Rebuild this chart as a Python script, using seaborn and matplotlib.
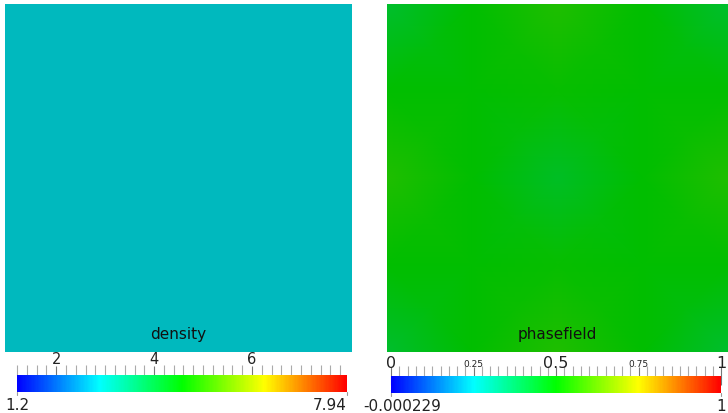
import numpy as np
import seaborn as sns
import matplotlib
matplotlib.use("Agg")
import matplotlib.pyplot as plt
from matplotlib.colors import LinearSegmentedColormap, Normalize
from matplotlib.cm import ScalarMappable
from matplotlib.ticker import MultipleLocator
from matplotlib.transforms import blended_transform_factory

# ==============================
# Data
# ==============================
# density field is flat (one teal colour everywhere)
density_grid = [
    [2.85, 2.85, 2.85],
    [2.85, 2.85, 2.85],
    [2.85, 2.85, 2.85],
]
density_range = (1.2, 7.94)
density_major = [2, 4, 6]
density_labels = ["2", "4", "6"]
density_minor_step = 0.2
density_end_labels = ["1.2", "7.94"]

# phasefield: greens, slightly yellow at edge midpoints, slightly blue at corners/centre
phase_grid = [
    [0.44, 0.50, 0.54, 0.50, 0.44],
    [0.50, 0.50, 0.51, 0.50, 0.50],
    [0.54, 0.50, 0.45, 0.50, 0.54],
    [0.50, 0.50, 0.51, 0.50, 0.50],
    [0.44, 0.50, 0.54, 0.50, 0.44],
]
phase_range = (-0.000229, 1.0)
phase_major = [0, 0.25, 0.5, 0.75, 1]
phase_labels = ["0", "0.25", "0.5", "0.75", "1"]
phase_minor_step = 0.025
phase_end_labels = ["-0.000229", "1"]

# ==============================
# Style
# ==============================
sns.set_style("white")
plt.rcParams["font.family"] = ["DejaVu Sans"]

# blue -> cyan -> green -> yellow -> red (HSV rainbow)
stops = [(0, 0, 1), (0, 1, 1), (0, 1, 0), (1, 1, 0), (1, 0, 0)]
bar_cmap = LinearSegmentedColormap.from_list("rainbow_bar", stops)
# the rendered surface is lit, so it looks darker than the legend
shade = 0.745
field_cmap = LinearSegmentedColormap.from_list(
    "rainbow_lit", [tuple(c * shade for c in s) for s in stops])

W, H = 728, 413
fig = plt.figure(figsize=(W / 100, H / 100), dpi=100)
fig.patch.set_facecolor("white")


def px_axes(x0, y0, x1, y1):
    return fig.add_axes([x0 / W, 1 - y1 / H, (x1 - x0) / W, (y1 - y0) / H])


def field(ax, grid, vrange, name):
    data = np.array(grid)
    sns.heatmap(data, ax=ax, cmap=field_cmap, vmin=vrange[0], vmax=vrange[1],
                cbar=False, xticklabels=False, yticklabels=False,
                shading="gouraud", linewidths=0)
    ax.set_xlim(0, data.shape[1] - 1)
    ax.set_ylim(data.shape[0] - 1, 0)
    ax.set_axis_off()
    ax.text(0.5, 0.038, name, transform=ax.transAxes, ha="center",
            va="baseline", fontsize=11, color="#111111")


def legend_bar(cax, vrange, major, labels, minor_step, end_labels,
               big, small, top_y, end_pos):
    sm = ScalarMappable(norm=Normalize(*vrange), cmap=bar_cmap)
    cb = fig.colorbar(sm, cax=cax, orientation="horizontal")
    cb.outline.set_visible(False)
    cax.xaxis.set_ticks_position("top")
    cax.set_xticks(major)
    cax.xaxis.set_minor_locator(MultipleLocator(minor_step))
    cax.tick_params(axis="x", which="major", direction="inout", length=12.5,
                    width=0.8, color="#777777", labeltop=False, labelbottom=False)
    cax.tick_params(axis="x", which="minor", direction="out", length=7,
                    width=0.8, color="#aaaaaa")
    tr = blended_transform_factory(cax.transData, cax.transAxes)
    for v, lab in zip(major, labels):
        fs = small if len(lab) == 4 else big
        yy = top_y + (0.06 if fs == small else 0)
        cax.text(v, yy, lab, transform=tr, ha="center", va="baseline",
                 fontsize=fs, color="#222222")
    # range markers below the bar
    for v, lab, (ha, dx) in zip(vrange, end_labels, end_pos):
        cax.plot([v, v], [0, -0.2], transform=tr, color="#999999", lw=0.8,
                 clip_on=False)
        cax.annotate(lab, (v, -0.35), xycoords=tr, xytext=(dx, 0),
                     textcoords="offset pixels", ha=ha, va="top",
                     fontsize=11, color="#222222", annotation_clip=False)


ax_d = px_axes(5, 4, 352, 352)
field(ax_d, density_grid, density_range, "density")

ax_p = px_axes(387, 4, 728, 352)
field(ax_p, phase_grid, phase_range, "phasefield")

cax_d = px_axes(17, 375, 347, 392)
legend_bar(cax_d, density_range, density_major, density_labels,
           density_minor_step, density_end_labels, 10.5, 10.5, 1.59,
           [("center", 0), ("right", 0)])

cax_p = px_axes(391, 376, 721, 393)
legend_bar(cax_p, phase_range, phase_major, phase_labels,
           phase_minor_step, phase_end_labels, 11.5, 6.5, 1.47,
           [("center", 11), ("center", 0)])

fig.savefig("out.png", dpi=100)
